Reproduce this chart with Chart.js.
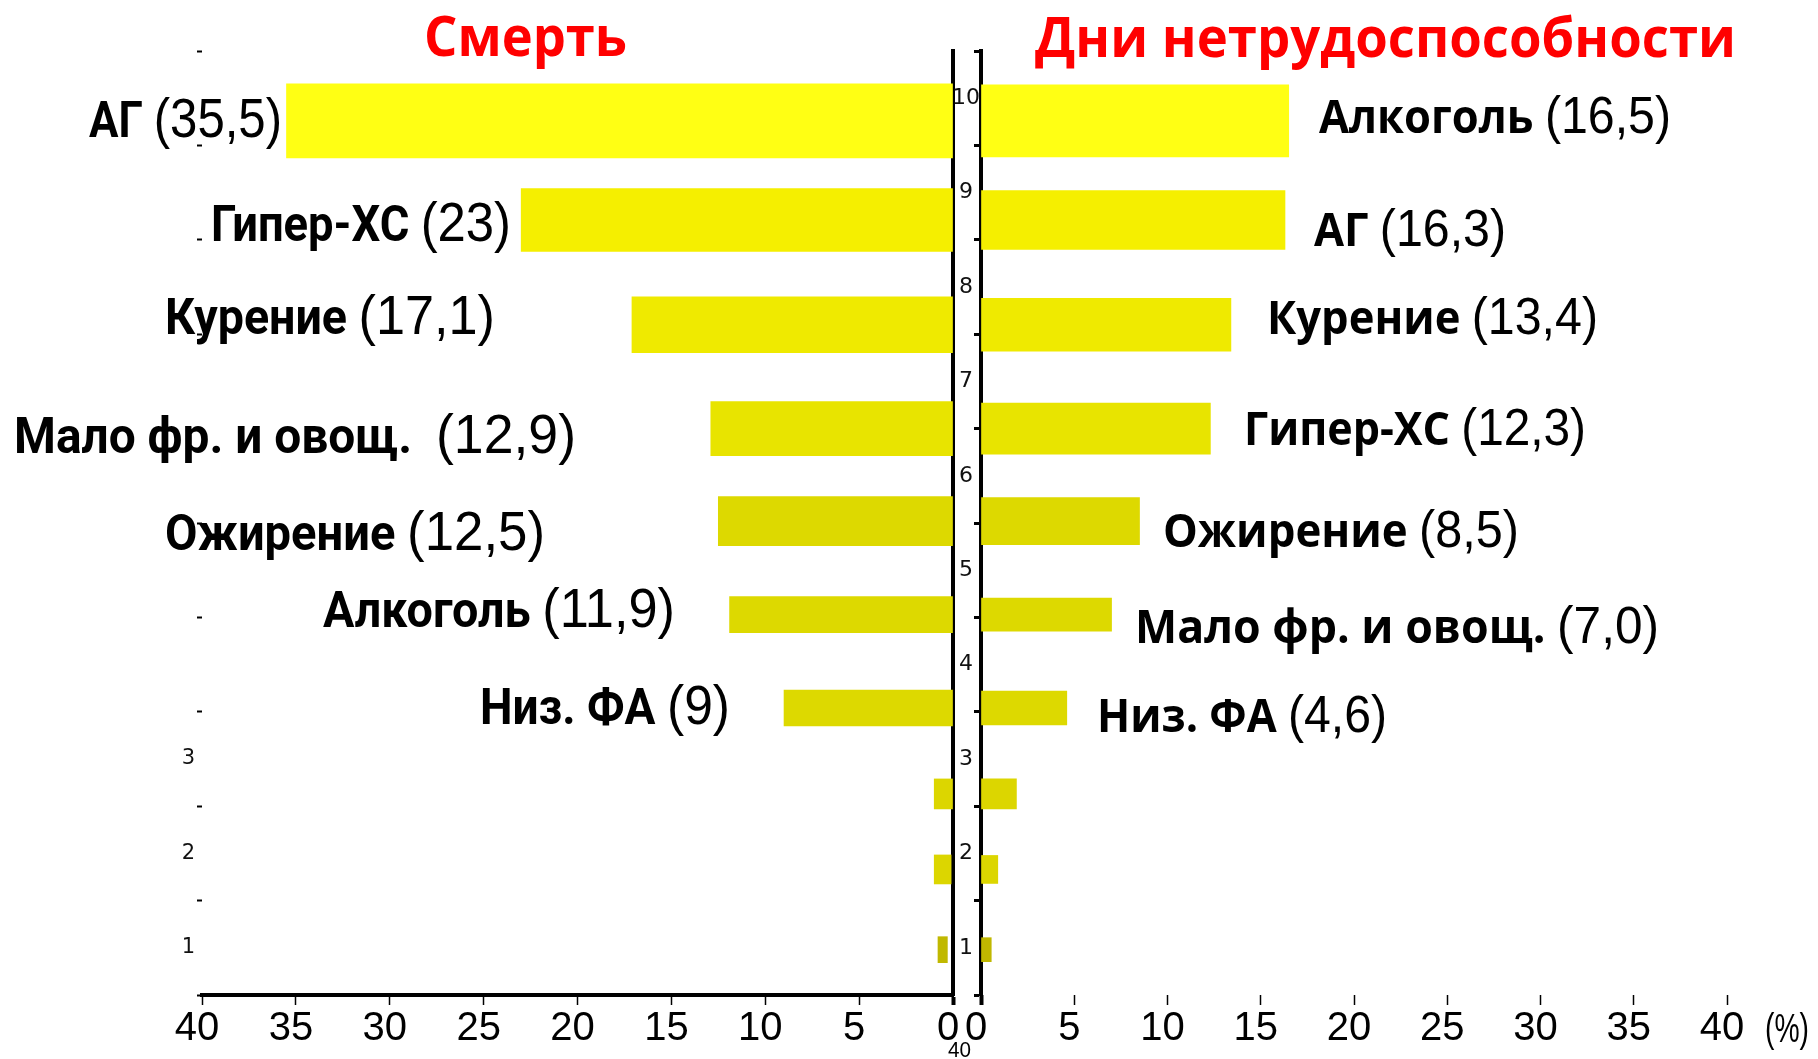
<!DOCTYPE html>
<html lang="ru">
<head>
<meta charset="utf-8">
<script src="https://cdn.jsdelivr.net/npm/chart.js@4.4.1/dist/chart.umd.min.js"></script>
<style>
html,body{margin:0;padding:0;background:#fff;}
body{width:1818px;height:1059px;position:relative;overflow:hidden;}
.wrap{position:absolute;top:0;}
.lbl{position:absolute;top:0;white-space:pre;line-height:1.2;color:#000;}
.mk{display:inline-block;width:0;height:0;vertical-align:baseline;}
</style>
</head>
<body>
<div class="wrap" style="left:895px;width:923px;height:1059px;"><canvas id="cR"></canvas></div>
<div class="wrap" style="left:0;width:995px;height:1059px;"><canvas id="cL"></canvas></div>
<script>
// ---------------- data ----------------
const rowLabels = ['1','2','3','4','5','6','7','8','9','10'];
const titles = ['Смерть', 'Дни нетрудоспособности'];
// rows listed top to bottom (10 ... 1)
const deathFactors = ['АГ', 'Гипер-ХС', 'Курение', 'Мало фр. и овощ. ', 'Ожирение', 'Алкоголь', 'Низ. ФА'];
const deathValues  = [35.5, 23, 17.1, 12.9, 12.5, 11.9, 9, 1.0, 1.0, 0.8];
const deathStart   = [0, 0, 0, 0, 0, 0, 0, 0, 0.1, 0.3];
const sickFactors  = ['Алкоголь', 'АГ', 'Курение', 'Гипер-ХС', 'Ожирение', 'Мало фр. и овощ.', 'Низ. ФА'];
const sickValues   = [16.5, 16.3, 13.4, 12.3, 8.5, 7.0, 4.6, 1.9, 0.9, 0.55];
const sickStart    = [0, 0, 0, 0, 0, 0, 0, 0, 0, 0];
const xTicks = [0, 5, 10, 15, 20, 25, 30, 35, 40];
const unitLabel = '(%)';
const strayLabel = '40';

// ---------------- layout / style ----------------
const rowPos = [9.76, 8.71, 7.60, 6.50, 5.52, 4.53, 3.54, 2.63, 1.83, 0.98];
const deathBarPx = [74, 63, 56, 54, 49, 36, 36, 30, 29, 26];
const sickBarPx  = [72, 59, 53, 51, 47, 33, 34, 30, 28, 24];
const barColors = ['#FFFF14', '#F5EF00', '#EFEA00', '#E8E400', '#DDD900', '#DDD900', '#DDD900', '#DCD600', '#DCD600', '#C0B800'];
// [left px, right px, cap-centre y px]
const deathLabelBox = [[89,282,119],[211,511,223],[165,495,316],[14,576,435],[165,545,532],[323,675,609],[480,730,706]];
const sickLabelBox  = [[1319,1671,116],[1314,1506,229],[1267,1598,317],[1244,1586,428],[1163,1519,530],[1135,1659,626],[1097,1387,715]];
const titleBox = [[424,627,36],[1035,1736,37]];

const NARROW = "'Liberation Sans Narrow','Arial Narrow','Liberation Sans',sans-serif";

function makeDatasets(vals, starts, px) {
  return vals.map((v, i) => ({
    data: [{ x: [starts[i], v], y: rowPos[i] }],
    backgroundColor: barColors[i],
    barThickness: px[i],
    grouped: false,
    borderWidth: 0,
    xAxisID: 'x',
    yAxisID: 'y'
  }));
}

const setRowTicks = s => { s.ticks = rowLabels.map(l => ({ value: Number(l) })); };
const setXTicks = s => { s.ticks = xTicks.map(v => ({ value: v })); };
const tickW = c => (c.tick && c.tick.value === 0) ? 4 : 1.5;

const xCommon = {
  type: 'linear', min: 0, max: 40, offset: false,
  afterBuildTicks: setXTicks,
  afterFit: s => { s.height = 64; },
  grid: { display: true, drawOnChartArea: false, drawTicks: true, tickLength: 10, color: '#000', tickColor: '#000', tickWidth: tickW },
  ticks: { font: { family: NARROW, size: 40 }, color: '#000', padding: 0, labelOffset: -5, maxRotation: 0, autoSkip: false }
};

new Chart(document.getElementById('cR'), {
  type: 'bar',
  data: { datasets: makeDatasets(sickValues, sickStart, sickBarPx) },
  options: {
    indexAxis: 'y', responsive: true, maintainAspectRatio: false, animation: false,
    layout: { padding: { top: 51, left: 0, right: 91, bottom: 0 } },
    plugins: { legend: { display: false }, tooltip: { enabled: false } },
    scales: {
      x: Object.assign({}, xCommon, {
        position: 'bottom',
        border: { display: false }
      }),
      y: {
        type: 'linear', position: 'left', min: 0.5, max: 10.5, z: 1, offset: false,
        afterBuildTicks: setRowTicks,
        afterFit: s => { s.width = 86; },
        border: { display: true, color: '#000', width: 4 },
        grid: { display: true, drawOnChartArea: false, offset: true, tickLength: 7, color: '#000', tickWidth: 3 },
        ticks: { display: false }
      }
    }
  }
});

new Chart(document.getElementById('cL'), {
  type: 'bar',
  data: { datasets: makeDatasets(deathValues, deathStart, deathBarPx) },
  options: {
    indexAxis: 'y', responsive: true, maintainAspectRatio: false, animation: false,
    layout: { padding: { top: 51, left: 0, right: 0, bottom: 0 } },
    plugins: { legend: { display: false }, tooltip: { enabled: false } },
    scales: {
      x: Object.assign({}, xCommon, {
        position: 'bottom', reverse: true,
        border: { display: true, color: '#000', width: 4 }
      }),
      y: {
        type: 'linear', position: 'right', min: 0.5, max: 10.5, z: 1, offset: false,
        afterBuildTicks: setRowTicks,
        afterFit: s => { s.width = 42; },
        border: { display: true, color: '#000', width: 4 },
        grid: { display: false, offset: false },
        ticks: { crossAlign: 'center', padding: -9, autoSkip: false, color: '#111',
                 font: { family: "'DejaVu Sans',sans-serif", size: 22 },
                 callback: (v, i) => rowLabels[i] }
      },
      y2: {
        type: 'linear', axis: 'y', position: 'left', min: 0.5, max: 10.5, offset: false,
        afterBuildTicks: setRowTicks,
        afterFit: s => { s.width = 202; },
        border: { display: false },
        grid: { display: true, drawOnChartArea: false, offset: true, tickLength: 5, color: '#000', tickWidth: 2 },
        ticks: { padding: 2, autoSkip: false, color: '#111',
                 font: { family: "'DejaVu Sans',sans-serif", size: 21 },
                 callback: (v, i) => (Number(rowLabels[i]) <= 3 ? rowLabels[i] : '') }
      }
    }
  }
});

// ---------------- text ----------------
function placeText(parts, box, capH, color) {
  const d = document.createElement('div');
  d.className = 'lbl';
  if (color) d.style.color = color;
  parts.forEach(p => {
    const s = document.createElement('span');
    s.textContent = p.text;
    s.style.fontFamily = p.family;
    s.style.fontWeight = p.weight;
    s.style.fontSize = p.size + 'px';
    d.appendChild(s);
  });
  const mk = document.createElement('span');
  mk.className = 'mk';
  d.appendChild(mk);
  document.body.appendChild(d);
  d.style.left = box[0] + 'px';
  const w = d.getBoundingClientRect().width;
  d.style.transformOrigin = '0 0';
  d.style.transform = 'scaleX(' + ((box[1] - box[0]) / w) + ')';
  const base = mk.getBoundingClientRect().top;
  d.style.top = (box[2] + capH / 2 - base) + 'px';
}

function fmtDeath(v) { return '(' + String(v).replace('.', ',') + ')'; }
function fmtSick(v) { return '(' + v.toFixed(1).replace('.', ',') + ')'; }

function buildText() {
  deathFactors.forEach((n, i) => placeText([
    { text: n + ' ', family: "Roboto,sans-serif", weight: 700, size: 50 },
    { text: fmtDeath(deathValues[i]), family: NARROW, weight: 400, size: 56 }
  ], deathLabelBox[i], 36));
  sickFactors.forEach((n, i) => placeText([
    { text: n + ' ', family: "'Open Sans',sans-serif", weight: 700, size: 46 },
    { text: fmtSick(sickValues[i]), family: NARROW, weight: 400, size: 51 }
  ], sickLabelBox[i], 33));
  titles.forEach((t, i) => placeText([
    { text: t, family: "'Open Sans',sans-serif", weight: 700, size: 56 }
  ], titleBox[i], 40, '#FF0000'));
  placeText([{ text: unitLabel, family: NARROW, weight: 400, size: 40 }], [1765, 1809, 1027], 29);
  placeText([{ text: strayLabel, family: NARROW, weight: 400, size: 22 }], [948, 971, 1049], 16);
}
if (document.fonts && document.fonts.ready) { document.fonts.ready.then(buildText); } else { buildText(); }
</script>
</body>
</html>
